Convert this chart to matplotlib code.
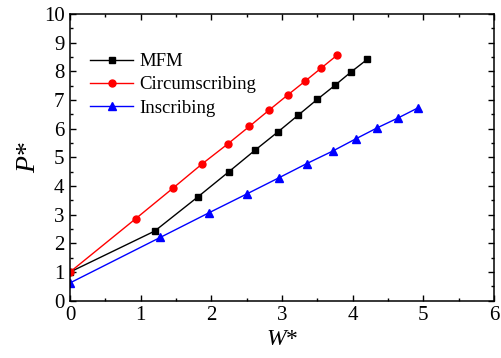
import numpy as np
import matplotlib
matplotlib.use("Agg")
import matplotlib.pyplot as plt
from matplotlib.ticker import MultipleLocator

plt.rcParams["font.family"] = ["Liberation Serif", "DejaVu Serif"]
plt.rcParams["mathtext.fontset"] = "custom"
plt.rcParams["mathtext.rm"] = "Liberation Serif"
plt.rcParams["mathtext.it"] = "Liberation Serif:italic"

# MFM
w_mfm = [0.0, 1.20, 1.81, 2.25, 2.62, 2.95, 3.23, 3.50, 3.75, 3.98, 4.21]
p_mfm = [1.0, 2.43, 3.62, 4.50, 5.25, 5.90, 6.47, 7.02, 7.51, 7.98, 8.42]

# Circumscribing
w_cir = [0.0, 0.93, 1.46, 1.87, 2.23, 2.54, 2.82, 3.08, 3.33, 3.56, 3.78]
p_cir = [1.0, 2.86, 3.93, 4.77, 5.46, 6.08, 6.65, 7.17, 7.66, 8.12, 8.56]

# Inscribing
w_ins = [0.0, 1.28, 1.97, 2.50, 2.96, 3.35, 3.72, 4.05, 4.35, 4.65, 4.93]
p_ins = [0.62, 2.21, 3.07, 3.72, 4.29, 4.78, 5.22, 5.65, 6.03, 6.38, 6.73]

fig = plt.figure(figsize=(5.01, 3.58), dpi=100)
ax = fig.add_axes([0.1397, 0.160, 0.846, 0.801])

ax.plot(w_mfm, p_mfm, color="black", marker="s", markersize=4.5, linewidth=1.0, label="MFM")
ax.plot(w_cir, p_cir, color="#ff0000", marker="o", markersize=5, linewidth=1.0, label="Circumscribing")
ax.plot(w_ins, p_ins, color="#0000ff", marker="^", markersize=5.5, linewidth=1.0, label="Inscribing")

ax.set_xlim(0, 6)
ax.set_ylim(0, 10)
ax.xaxis.set_major_locator(MultipleLocator(1))
ax.xaxis.set_minor_locator(MultipleLocator(0.5))
ax.yaxis.set_major_locator(MultipleLocator(1))
ax.yaxis.set_minor_locator(MultipleLocator(0.5))
ax.tick_params(which="both", direction="in", top=True, right=True, labelsize=15, width=1.0)
ax.tick_params(which="major", length=4.5, pad=4)
ax.tick_params(which="minor", length=2.5)
for s in ax.spines.values():
    s.set_linewidth(1.1)

ax.set_xlabel("$W$*", fontsize=17, labelpad=3)
ax.set_ylabel("$P$*", fontsize=20, labelpad=2)

ax.legend(loc="upper left", bbox_to_anchor=(0.03, 0.89), frameon=False, fontsize=13.5,
          handlelength=2.3, handletextpad=0.3, labelspacing=0.33, borderaxespad=0)

fig.savefig("out.png", dpi=100)
